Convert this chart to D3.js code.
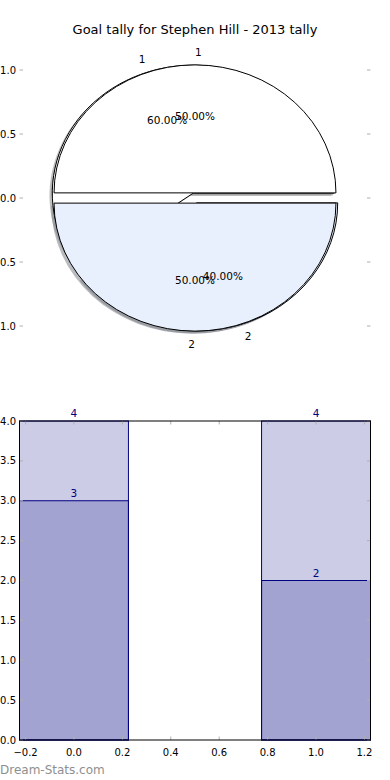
<!DOCTYPE html>
<html>
<head>
<meta charset="utf-8">
<script src="https://d3js.org/d3.v7.min.js"></script>
<style>
  body { margin: 0; background: #fff; }
  text { font-family: "DejaVu Sans", sans-serif; }
</style>
</head>
<body>
<div id="chart"></div>
<script>
// data
var pieLabels = ["1", "2"];
var pieTotals = [4, 4];     // top pie (50/50)
var pieGoals = [3, 2];      // pie underneath (60/40)
var pieTicks = [-1, -0.5, 0, 0.5, 1];

var barCats = [0, 1];
var barTotals = [4, 4];
var barGoals = [3, 2];
var barXTicks = [-0.2, 0, 0.2, 0.4, 0.6, 0.8, 1.0, 1.2];
var barYTicks = [0, 0.5, 1, 1.5, 2, 2.5, 3, 3.5, 4];

var W = 390, H = 780;
var svg = d3.select("#chart").append("svg")
    .attr("width", W).attr("height", H);

var fmt = d3.format(".1f");
var tickGray = "#b0b0b0";

// title
svg.append("text")
    .attr("x", 195).attr("y", 34)
    .attr("text-anchor", "middle")
    .attr("font-size", "13px")
    .text("Goal tally for Stephen Hill - 2013 tally");

// ---------- pie ----------
var axL = 19.5, axR = 370.5;
var px = d3.scaleLinear().domain([-1.245, 1.245]).range([axL, axR]);
var py = d3.scaleLinear().domain([-1, 1]).range([326, 70]);
var sx = px(1) - px(0), sy = py(0) - py(1);
var cx = px(0), cy = py(0);
var explode = 0.04;

// pie y ticks
pieTicks.forEach(function (t) {
    svg.append("line").attr("x1", axL).attr("x2", axL + 3.5)
        .attr("y1", py(t)).attr("y2", py(t)).attr("stroke", tickGray);
    svg.append("line").attr("x1", axR).attr("x2", axR - 3.5)
        .attr("y1", py(t)).attr("y2", py(t)).attr("stroke", tickGray);
    svg.append("text").attr("x", 16).attr("y", py(t))
        .attr("dy", "0.35em").attr("text-anchor", "end")
        .attr("font-size", "10px").text(fmt(t));
});

// matplotlib style: start at 3 o'clock, counter clockwise
var pie = d3.pie().sort(null).startAngle(Math.PI / 2).endAngle(Math.PI / 2 - 2 * Math.PI);
var arc = d3.arc().innerRadius(0).outerRadius(1);
var pieColors = ["#ffffff", "#e9f0fd"];

function offset(d, r) {
    var a = (d.startAngle + d.endAngle) / 2;
    return [Math.sin(a) * r * sx, -Math.cos(a) * r * sy];
}

var goalArcs = pie(pieGoals);
var totalArcs = pie(pieTotals);

// shadows first (below all wedges)
var shadowLayer = svg.append("g");
var wedgeLayer = svg.append("g");
var textLayer = svg.append("g");

function drawPie(arcs) {
    arcs.forEach(function (d, i) {
        var o = offset(d, explode);
        shadowLayer.append("path")
            .attr("d", arc(d))
            .attr("transform", "translate(" + (cx + o[0] - 0.02 * sx) + "," + (cy + o[1] + 0.02 * sy) + ") scale(" + sx + "," + sy + ")")
            .attr("fill", d3.rgb(pieColors[i]).darker(1.7))
            .attr("fill-opacity", 0.55)
            .attr("stroke", "none");
        wedgeLayer.append("path")
            .attr("d", arc(d))
            .attr("transform", "translate(" + (cx + o[0]) + "," + (cy + o[1]) + ") scale(" + sx + "," + sy + ")")
            .attr("fill", pieColors[i])
            .attr("stroke", "#000")
            .attr("stroke-width", 1)
            .attr("vector-effect", "non-scaling-stroke");

        var total = d3.sum(arcs, function (e) { return e.value; });
        var l = offset(d, 1.1 + explode);
        var p = offset(d, 0.6 + explode);
        textLayer.append("text")
            .attr("x", cx + l[0]).attr("y", cy + l[1]).attr("dy", "0.35em")
            .attr("text-anchor", l[0] >= 0 ? "start" : "end")
            .attr("font-size", "10.5px")
            .text(pieLabels[i]);
        textLayer.append("text")
            .attr("x", cx + p[0]).attr("y", cy + p[1]).attr("dy", "0.35em")
            .attr("text-anchor", "middle")
            .attr("font-size", "10.5px")
            .text(d3.format(".2f")(d.value / total * 100) + "%");
    });
}
drawPie(goalArcs);
drawPie(totalArcs);

// ---------- bars ----------
var bTop = 421, bBot = 740;
var bx = d3.scaleLinear().domain([-0.225, 1.225]).range([axL, axR]);
var by = d3.scaleLinear().domain([0, 4]).range([bBot, bTop]);
var barW = 0.45;

var bars = svg.append("g");
[barTotals, barGoals].forEach(function (vals) {
    bars.selectAll(null).data(vals).enter().append("rect")
        .attr("x", function (d, i) { return bx(barCats[i] - barW / 2); })
        .attr("y", function (d) { return by(d); })
        .attr("width", bx(barW) - bx(0))
        .attr("height", function (d) { return by(0) - by(d); })
        .attr("fill", "navy").attr("fill-opacity", 0.2)
        .attr("stroke", "navy").attr("stroke-width", 1);
    bars.selectAll(null).data(vals).enter().append("text")
        .attr("x", function (d, i) { return bx(barCats[i]); })
        .attr("y", function (d) { return by(d) - 4; })
        .attr("text-anchor", "middle")
        .attr("font-size", "10.5px")
        .attr("fill", "navy")
        .text(function (d) { return d; });
});

// ticks
barXTicks.forEach(function (t) {
    svg.append("line").attr("x1", bx(t)).attr("x2", bx(t))
        .attr("y1", bBot).attr("y2", bBot - 3.5).attr("stroke", tickGray);
    svg.append("line").attr("x1", bx(t)).attr("x2", bx(t))
        .attr("y1", bTop).attr("y2", bTop + 3.5).attr("stroke", tickGray);
    svg.append("text").attr("x", bx(t)).attr("y", bBot + 15.5)
        .attr("text-anchor", "middle").attr("font-size", "10px").text(fmt(t));
});
barYTicks.forEach(function (t) {
    svg.append("line").attr("x1", axL).attr("x2", axL + 3.5)
        .attr("y1", by(t)).attr("y2", by(t)).attr("stroke", tickGray);
    svg.append("line").attr("x1", axR).attr("x2", axR - 3.5)
        .attr("y1", by(t)).attr("y2", by(t)).attr("stroke", tickGray);
    svg.append("text").attr("x", 16).attr("y", by(t))
        .attr("dy", "0.35em").attr("text-anchor", "end")
        .attr("font-size", "10px").text(fmt(t));
});

svg.append("rect")
    .attr("x", axL).attr("y", bTop)
    .attr("width", axR - axL).attr("height", bBot - bTop)
    .attr("fill", "none").attr("stroke", "#000").attr("stroke-width", 1);

// watermark
svg.append("text")
    .attr("x", 0).attr("y", 774)
    .attr("font-size", "12px")
    .attr("fill", "#8f8f8f")
    .text("Dream-Stats.com");
</script>
</body>
</html>
